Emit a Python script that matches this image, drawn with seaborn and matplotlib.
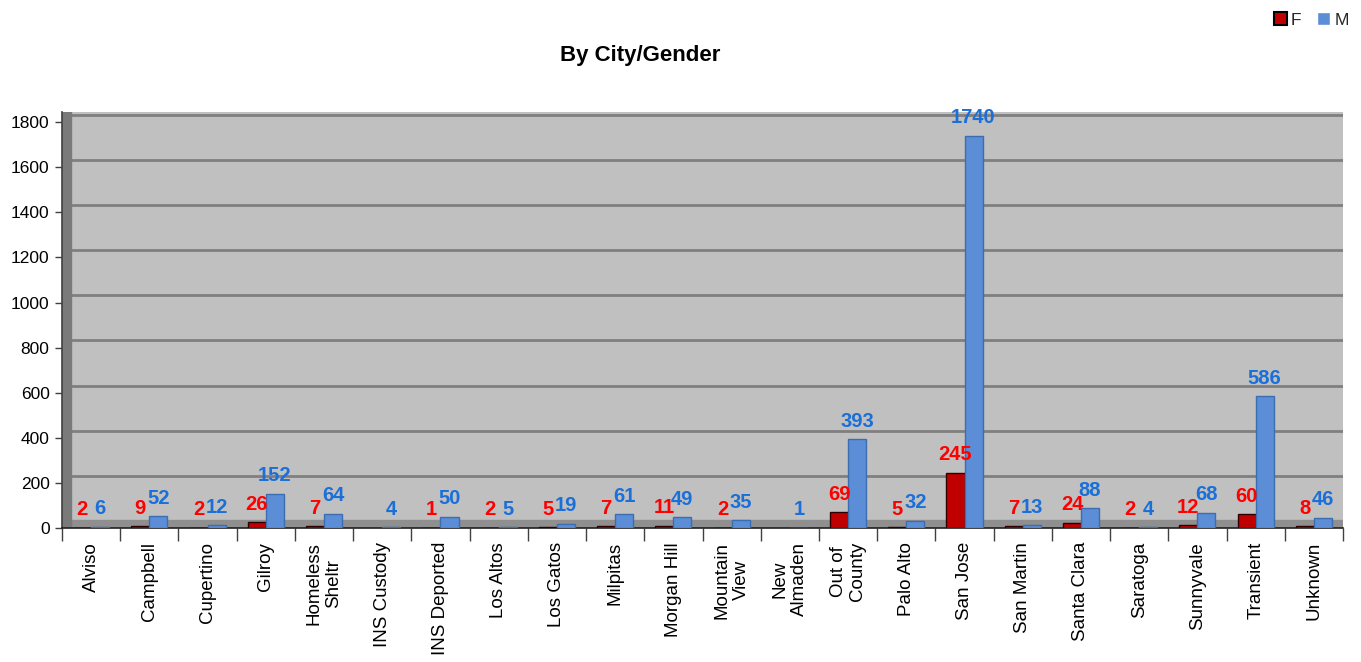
import numpy as np
import pandas as pd
import matplotlib
matplotlib.use("Agg")
import matplotlib.pyplot as plt
from matplotlib.patches import Rectangle
import seaborn as sns

cities = ["Alviso", "Campbell", "Cupertino", "Gilroy", "Homeless\nSheltr", "INS Custody",
          "INS Deported", "Los Altos", "Los Gatos", "Milpitas", "Morgan Hill", "Mountain\nView",
          "New\nAlmaden", "Out of\nCounty", "Palo Alto", "San Jose", "San Martin", "Santa Clara",
          "Saratoga", "Sunnyvale", "Transient", "Unknown"]
female = [2, 9, 2, 26, 7, np.nan, 1, 2, 5, 7, 11, 2, np.nan, 69, 5, 245, 7, 24, 2, 12, 60, 8]
male = [6, 52, 12, 152, 64, 4, 50, 5, 19, 61, 49, 35, 1, 393, 32, 1740, 13, 88, 4, 68, 586, 46]
genders = ["F", "M"]
yticks = [0, 200, 400, 600, 800, 1000, 1200, 1400, 1600, 1800]

df = pd.DataFrame({
    "city": cities * 2,
    "gender": ["F"] * len(cities) + ["M"] * len(cities),
    "count": female + male,
})

sns.set_theme(style="white")
plt.rcParams["font.family"] = ["Liberation Sans", "DejaVu Sans"]

fig = plt.figure(figsize=(13.61, 6.62), dpi=100)
ax = fig.add_axes([62 / 1361, 1 - 528 / 662, (1343 - 62) / 1361, (528 - 112) / 662])
ax.set_facecolor("#c0c0c0")

palette = {"F": "#c00000", "M": "#5b8ed6"}
sns.barplot(data=df, x="city", y="count", hue="gender", order=cities, hue_order=genders,
            palette=palette, width=0.62, saturation=1, ax=ax, legend=True)

edge = {"F": "#300000", "M": "#3c6db0"}
label_color = {"F": "#ff0000", "M": "#1a6fd8"}
for cont, g in zip(ax.containers, genders):
    for bar in cont:
        bar.set_edgecolor(edge[g])
        bar.set_linewidth(1.0)
        bar.set_zorder(4)
        h = bar.get_height()
        if h is None or np.isnan(h):
            continue
        ax.annotate(f"{int(h)}", (bar.get_x() + bar.get_width() / 2, h),
                    xytext=(0, 6), textcoords="offset points", ha="center", va="bottom",
                    fontsize=14.5, fontweight="bold", color=label_color[g], zorder=5)

ax.set_ylim(0, 1845)
ax.set_xlim(-0.5, len(cities) - 0.5)

# wall gridlines (drawn slightly raised to mimic the 3D back wall)
for t in yticks[1:]:
    ax.axhline(t + 32, color="#7f7f7f", lw=2, zorder=1)
# floor and left wall side
ax.axhspan(0, 36, color="#8f8f8f", zorder=2)
ax.add_patch(Rectangle((0, 0), 0.007, 1, transform=ax.transAxes, color="#7a7a7a", zorder=2))

ax.set_yticks(yticks)
ax.set_yticklabels([str(t) for t in yticks], fontsize=12.5, color="black")
ax.tick_params(axis="y", which="major", length=5, width=1, color="#404040", direction="out", pad=4, left=True)

ax.set_xticks(range(len(cities)))
ax.set_xticklabels(cities, rotation=90, fontsize=13.5, ha="center", va="top", color="black")
ax.tick_params(axis="x", which="major", length=0, pad=10)
ax.set_xticks(np.arange(-0.5, len(cities), 1.0), minor=True)
ax.tick_params(axis="x", which="minor", length=9, width=1, color="#404040", direction="out", bottom=True)

ax.set_xlabel("")
ax.set_ylabel("")
for s in ["top", "right"]:
    ax.spines[s].set_visible(False)
ax.spines["left"].set_color("#404040")
ax.spines["left"].set_linewidth(1.2)
ax.spines["bottom"].set_color("#202020")
ax.spines["bottom"].set_linewidth(1.2)
ax.grid(False)

handles, labels = ax.get_legend_handles_labels()
ax.get_legend().remove()
handles[0].set_edgecolor("black")
handles[0].set_linewidth(1.5)
fig.legend(handles, labels, loc="upper right", bbox_to_anchor=(1.0, 1.0), ncol=2,
           frameon=False, fontsize=12.5, handlelength=0.75, handleheight=0.75,
           handletextpad=0.25, columnspacing=0.9, borderaxespad=0.3)

fig.text(640 / 1361, 1 - 55 / 662, "By City/Gender", ha="center", va="center",
         fontsize=16, fontweight="bold", color="black")

fig.savefig("out.png", dpi=100, facecolor="white")
